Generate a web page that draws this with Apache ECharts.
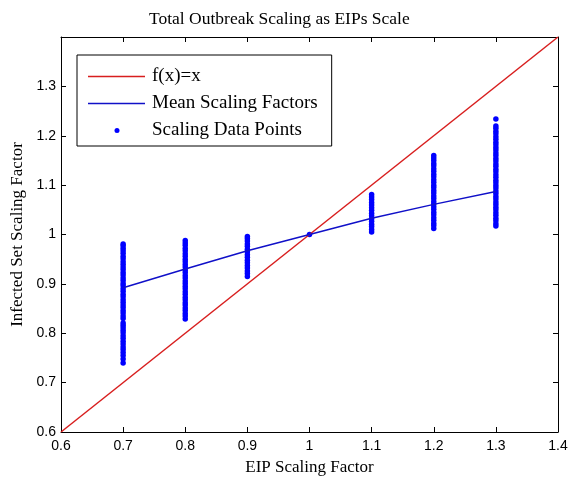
<!DOCTYPE html>
<html><head><meta charset="utf-8">
<script src="https://cdn.jsdelivr.net/npm/echarts@6/dist/echarts.min.js"></script>
<style>html,body{margin:0;padding:0;background:#fff}#c{width:581px;height:477px}</style>
</head><body><div id="c"></div>
<script>
const identityX = [0.6, 1.4];
const meanX = [0.7, 0.8, 0.9, 1.0, 1.1, 1.2, 1.3];
const meanY = [0.892, 0.930, 0.967, 1.000, 1.033, 1.061, 1.087];
const pts07 = [0.740,0.748,0.755,0.761,0.767,0.772,0.778,0.784,0.790,0.795,0.801,0.806,0.811,0.816,0.821,0.830,0.835,0.841,0.846,0.852,0.857,0.863,0.868,0.874,0.879,0.885,0.890,0.896,0.901,0.907,0.912,0.918,0.923,0.929,0.934,0.940,0.945,0.951,0.956,0.962,0.967,0.972,0.977,0.981];
const pts08 = [0.829,0.835,0.840,0.846,0.851,0.857,0.862,0.868,0.873,0.879,0.884,0.890,0.895,0.901,0.906,0.912,0.917,0.923,0.928,0.934,0.939,0.945,0.950,0.956,0.961,0.967,0.972,0.978,0.983,0.988];
const pts09 = [0.915,0.921,0.926,0.932,0.937,0.943,0.948,0.954,0.959,0.965,0.970,0.976,0.981,0.987,0.992,0.996];
const pts10 = [1.000];
const pts11 = [1.005,1.010,1.016,1.021,1.027,1.032,1.038,1.043,1.049,1.054,1.060,1.065,1.071,1.076,1.081];
const pts12 = [1.012,1.018,1.023,1.029,1.034,1.040,1.045,1.051,1.056,1.062,1.067,1.073,1.078,1.084,1.089,1.095,1.100,1.106,1.111,1.117,1.122,1.128,1.133,1.139,1.144,1.150,1.155,1.160];
const pts13 = [1.017,1.022,1.028,1.033,1.039,1.044,1.050,1.055,1.061,1.066,1.072,1.077,1.083,1.088,1.094,1.099,1.105,1.110,1.116,1.121,1.127,1.132,1.138,1.143,1.149,1.154,1.160,1.165,1.171,1.176,1.182,1.187,1.193,1.198,1.204,1.209,1.215,1.220,1.234];
const ptGroups = [[0.7,pts07],[0.8,pts08],[0.9,pts09],[1.0,pts10],[1.1,pts11],[1.2,pts12],[1.3,pts13]];
const title = 'Total Outbreak Scaling as EIPs Scale';
const xName = 'EIP Scaling Factor';
const yName = 'Infected Set Scaling Factor';
const names = ['f(x)=x','Mean Scaling Factors','Scaling Data Points'];

const scatterData = [];
ptGroups.forEach(g => g[1].forEach(v => scatterData.push([g[0], v])));
const meanData = meanX.map((x,i)=>[x, meanY[i]]);
const idData = identityX.map(x=>[x,x]);

const lineIcon = 'path://M0,0M59,19M0,8.8L57,8.8L57,10.2L0,10.2Z';
const dotIcon = 'path://M0,0M59,19M26.5,9.5a2.5,2.5 0 1,0 5,0a2.5,2.5 0 1,0 -5,0z';

const chart = echarts.init(document.getElementById('c'));
const axisCommon = {
  type:'value', min:0.6, max:1.4, interval:0.1,
  splitLine:{show:false},
  axisLine:{show:true, lineStyle:{color:'#000', width:1}},
  axisTick:{show:true, inside:true, length:5, lineStyle:{color:'#000'}},
};
chart.setOption({
  animation:false,
  title:{text:title, left:144, top:5,
    textStyle:{fontFamily:'Liberation Serif', fontSize:17.5, fontWeight:'normal', color:'#000'}},
  grid:{left:61, right:23, top:37, bottom:45, containLabel:false, outerBoundsMode:'none'},
  legend:{
    orient:'vertical', left:77, top:55,
    padding:[12,14,6,11], itemGap:8, itemWidth:59, itemHeight:19,
    borderColor:'#000', borderWidth:1, backgroundColor:'#fff',
    textStyle:{fontFamily:'Liberation Serif', fontSize:19, lineHeight:19, color:'#000'},
    data:[
      {name:names[0], icon:lineIcon},
      {name:names[1], icon:lineIcon},
      {name:names[2], icon:dotIcon}
    ]
  },
  xAxis:[
    Object.assign({}, axisCommon, {position:'bottom', name:xName, nameLocation:'middle', nameGap:27,
      nameTextStyle:{fontFamily:'Liberation Serif', fontSize:17, color:'#000'},
      axisLabel:{fontFamily:'Liberation Sans', fontSize:14, color:'#000', margin:7,
        formatter:v=>String(Math.round(v*10)/10)}}),
    Object.assign({}, axisCommon, {position:'top', axisLabel:{show:false}})
  ],
  yAxis:[
    Object.assign({}, axisCommon, {position:'left', name:yName, nameLocation:'middle', nameGap:31,
      nameTextStyle:{fontFamily:'Liberation Serif', fontSize:17, color:'#000'},
      axisLabel:{fontFamily:'Liberation Sans', fontSize:14, color:'#000', margin:5, showMaxLabel:false,
        formatter:v=>String(Math.round(v*10)/10)}}),
    Object.assign({}, axisCommon, {position:'right', axisLabel:{show:false}})
  ],
  series:[
    {name:names[0], type:'line', data:idData, symbol:'none', lineStyle:{color:'#d81e1e', width:1.5}, itemStyle:{color:'#d81e1e'}, z:3},
    {name:names[1], type:'line', data:meanData, symbol:'none', lineStyle:{color:'#1010c8', width:1.5}, itemStyle:{color:'#1010c8'}, z:4},
    {name:names[2], type:'scatter', data:scatterData, symbol:'circle', symbolSize:5.5, itemStyle:{color:'#0000ff', opacity:1}, z:2}
  ]
});
</script></body></html>
